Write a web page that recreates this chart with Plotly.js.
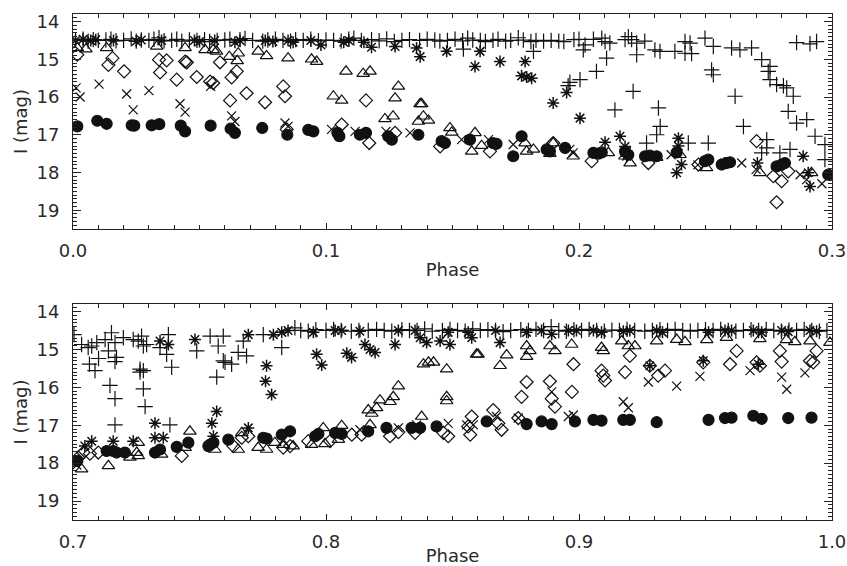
<!DOCTYPE html>
<html><head><meta charset="utf-8">
<script src="https://cdn.plot.ly/plotly-3.0.1.min.js"></script>
<style>html,body{margin:0;padding:0;background:#fff}</style>
</head><body><div id="chart" style="width:847px;height:566px"></div>
<script>
// ===== TOP PANEL (phase 0.0 - 0.3) =====
const circTopPhase = [0.0017,0.0096,0.0133,0.0232,0.0242,0.0311,0.0341,0.0426,0.0443,0.0544,0.0623,0.0640,0.0748,0.0847,0.093,0.095,0.1045,0.1053,0.1134,0.1158,0.1246,0.126,0.1365,0.1457,0.147,0.1569,0.166,0.1674,0.174,0.1773,0.1872,0.1885,0.1945,0.2057,0.2077,0.209,0.2182,0.2195,0.2261,0.228,0.2307,0.2386,0.2498,0.2511,0.2564,0.2583,0.2597,0.2781,0.2801,0.2814,0.2985];
const circTopMag   = [16.78,16.63,16.71,16.75,16.76,16.75,16.72,16.76,16.91,16.76,16.84,16.95,16.82,17.0,16.87,16.91,16.95,17.04,17.0,16.95,17.04,17.13,17.0,17.17,17.22,17.13,17.22,17.24,17.57,17.04,17.39,17.44,17.35,17.48,17.5,17.47,17.44,17.53,17.57,17.55,17.57,17.47,17.7,17.66,17.79,17.75,17.73,17.84,17.79,17.75,18.06];

const crossTopPhase = [0.0012,0.0028,0.0103,0.0212,0.0238,0.030,0.0423,0.0443,0.0544,0.0627,0.064,0.0838,0.085,0.1022,0.1115,0.1237,0.1332,0.1536,0.1642,0.174,0.1964,0.1977,0.2187,0.2364,0.2470,0.2643,0.2700,0.2874,0.290,0.2960];
const crossTopMag   = [15.76,16.0,15.66,15.92,16.34,15.83,16.18,16.4,15.72,16.5,16.65,16.69,16.78,16.86,16.91,16.91,16.95,17.13,17.13,17.26,17.39,17.48,17.45,17.53,17.8,17.75,17.92,18.06,18.19,18.3];

const diamTopPhase = [0.0017,0.014,0.0156,0.0202,0.034,0.0344,0.037,0.041,0.0443,0.045,0.0489,0.0542,0.0554,0.0581,0.0621,0.0627,0.0647,0.0686,0.0759,0.0831,0.0838,0.0845,0.1062,0.1158,0.1171,0.1273,0.1451,0.1648,0.1898,0.205,0.2274,0.2472,0.2702,0.2768,0.2781,0.2801,0.2827];
const diamTopMag   = [14.88,15.15,14.97,15.32,15.01,15.35,15.03,15.54,15.06,15.08,15.47,15.59,15.63,15.08,16.09,15.48,15.32,15.9,16.14,15.72,15.98,16.86,16.73,16.09,17.22,16.95,17.31,17.44,17.22,17.7,17.75,17.79,17.17,18.1,18.79,18.23,17.97];

const triTopPhase = [0.0017,0.0051,0.0133,0.0331,0.0443,0.0522,0.0554,0.0567,0.0618,0.0649,0.0653,0.0732,0.0765,0.085,0.0943,0.0963,0.1029,0.1062,0.1079,0.1147,0.1174,0.1233,0.1265,0.1273,0.1286,0.1365,0.1372,0.1378,0.1385,0.1405,0.149,0.1497,0.1576,0.1589,0.1615,0.1787,0.1793,0.182,0.1885,0.1898,0.1977,0.2116,0.2182,0.2202,0.2307,0.2399,0.2504,0.2715,0.2919];
const triTopMag   = [14.7,14.73,14.7,14.66,14.7,14.75,14.75,14.79,14.93,15.04,14.84,14.79,14.91,14.97,15.0,15.06,15.98,16.09,15.32,15.38,15.32,16.58,16.51,16.03,15.72,16.65,16.18,16.18,16.51,16.62,16.82,16.94,17.44,16.95,17.29,17.22,17.44,17.39,17.5,17.22,17.57,17.48,17.57,17.75,17.61,17.53,17.88,18.01,18.01];

const astTopPhase = [0.001,0.004,0.007,0.009,0.016,0.025,0.027,0.035,0.048,0.050,0.056,0.064,0.066,0.076,0.079,0.085,0.087,0.094,0.098,0.107,0.109,0.115,0.118,0.1273,0.1358,0.1372,0.1477,0.1589,0.1609,0.1688,0.1787,0.1773,0.1793,0.1813,0.1898,0.1951,0.2004,0.2103,0.2162,0.2182,0.2188,0.2393,0.2393,0.2405,0.2386,0.2575,0.2705,0.2886,0.2906,0.2913];
const astTopMag   = [14.5,14.47,14.5,14.48,14.5,14.52,14.49,14.5,14.5,14.53,14.5,14.55,14.5,14.5,14.53,14.5,14.55,14.5,14.62,14.55,14.5,14.55,14.68,14.66,14.7,14.93,14.79,15.19,14.79,15.06,15.06,15.44,15.47,15.5,16.16,15.88,16.56,17.2,17.04,17.31,17.57,17.09,17.3,17.79,18.01,17.75,17.75,17.57,18.01,18.37];

const plusTopPhase = [0.001,0.004,0.006,0.008,0.010,0.013,0.015,0.017,0.020,0.023,0.025,0.027,0.030,0.032,0.034,0.036,0.039,0.041,0.043,0.046,0.049,0.052,0.054,0.057,0.060,0.062,0.066,0.068,0.071,0.075,0.077,0.080,0.083,0.086,0.088,0.091,0.094,0.097,0.100,0.103,0.106,0.109,0.111,0.114,0.118,0.121,0.124,0.127,0.130,0.133,0.137,0.140,0.143,0.145,0.148,0.151,0.154,0.156,0.158,0.161,0.163,0.166,0.168,0.171,0.173,0.176,0.178,0.181,0.183,0.186,0.189,0.192,0.194,0.198,0.200,0.2024,0.2057,0.209,0.2103,0.2122,0.2182,0.2195,0.2208,0.2228,0.226,0.230,0.232,0.2379,0.2419,0.2419,0.2439,0.2445,0.2498,0.2531,0.2603,0.2636,0.2682,0.286,0.2913,0.2939,0.1543,0.182,0.2017,0.2228,0.2109,0.1964,0.1957,0.2004,0.2069,0.2214,0.2142,0.2314,0.2321,0.2307,0.2267,0.2432,0.2511,0.2524,0.2531,0.2617,0.265,0.2742,0.2742,0.2722,0.2794,0.2834,0.2933,0.2972,0.2972,0.2827,0.286,0.29,0.2847,0.2821,0.2808,0.2781,0.2755,0.2748,0.2755,0.2722];
const plusTopMag   = [14.50,14.47,14.52,14.48,14.50,14.49,14.47,14.51,14.50,14.46,14.52,14.49,14.50,14.47,14.43,14.51,14.50,14.47,14.52,14.49,14.50,14.48,14.53,14.50,14.49,14.47,14.48,14.45,14.50,14.52,14.49,14.47,14.50,14.52,14.48,14.50,14.47,14.51,14.49,14.50,14.52,14.47,14.44,14.50,14.48,14.51,14.46,14.53,14.50,14.48,14.50,14.47,14.49,14.52,14.50,14.47,14.51,14.44,14.49,14.50,14.53,14.50,14.47,14.52,14.50,14.43,14.49,14.53,14.50,14.52,14.50,14.52,14.53,14.48,14.47,14.62,14.47,14.44,14.53,14.57,14.48,14.40,14.48,14.57,14.52,14.75,14.79,14.79,14.53,14.84,14.57,14.85,14.44,14.66,14.70,14.75,14.70,14.56,14.59,14.53,14.73,14.79,14.75,14.88,14.97,15.61,15.7,15.54,15.32,15.85,16.34,16.29,16.78,17.0,17.22,17.22,17.22,15.28,15.41,15.98,16.78,17.13,17.35,17.48,17.48,17.39,17.04,17.26,17.66,16.38,16.69,16.6,15.98,15.76,15.7,15.67,15.54,15.32,15.19,15.01];

// ===== BOTTOM PANEL (phase 0.7 - 1.0) =====
const circBotPhase = [0.7017,0.7133,0.7159,0.7172,0.7205,0.7324,0.7344,0.741,0.7456,0.7535,0.7542,0.7555,0.7614,0.7752,0.7765,0.7825,0.7858,0.7957,0.797,0.8036,0.8062,0.8167,0.8239,0.8338,0.8372,0.8437,0.8635,0.8793,0.8852,0.8892,0.8984,0.9057,0.9089,0.9175,0.9201,0.9307,0.9512,0.9577,0.9603,0.9689,0.9722,0.9827,0.9919];
const circBotMag   = [17.94,17.68,17.68,17.72,17.72,17.72,17.64,17.57,17.46,17.55,17.51,17.46,17.38,17.33,17.35,17.25,17.16,17.29,17.23,17.2,17.23,17.16,17.07,17.07,17.07,17.03,16.9,16.97,16.9,16.97,16.9,16.86,16.88,16.86,16.86,16.92,16.86,16.81,16.8,16.75,16.83,16.81,16.8];

const crossBotPhase = [0.7008,0.7015,0.8134,0.8286,0.8358,0.8483,0.8556,0.8582,0.8674,0.876,0.8892,0.8958,0.8978,0.9175,0.9195,0.9274,0.9386,0.9478,0.9676,0.9801,0.9821,0.9893];
const crossBotMag   = [17.94,18.05,17.12,17.07,16.99,16.95,16.99,16.99,16.77,16.81,16.12,16.77,16.73,16.38,16.54,15.86,15.97,15.71,15.56,15.73,16.05,15.62];

const diamBotPhase = [0.7021,0.7041,0.7067,0.71,0.743,0.7634,0.7667,0.7693,0.7831,0.7858,0.793,0.8016,0.8102,0.8141,0.8253,0.8286,0.8352,0.8464,0.8483,0.857,0.8562,0.8576,0.8661,0.8681,0.8694,0.876,0.8773,0.8793,0.8885,0.8892,0.8905,0.8972,0.8978,0.9089,0.9096,0.9103,0.9182,0.9201,0.928,0.9313,0.934,0.9491,0.9597,0.9623,0.9702,0.9715,0.9794,0.9801,0.9913,0.9926,0.9939];
const diamBotMag   = [17.85,17.72,17.75,17.72,17.81,17.55,17.33,17.29,17.59,17.55,17.42,17.42,17.25,17.25,17.29,17.18,17.2,17.2,17.29,17.25,17.03,16.77,16.6,16.95,17.12,16.81,16.25,15.86,15.84,16.3,16.51,16.12,15.39,15.56,15.69,15.82,15.6,15.17,15.43,15.69,15.56,15.34,15.39,15.04,15.34,15.43,15.04,15.32,15.3,15.34,15.04];

const triBotPhase = [0.7034,0.714,0.7225,0.7252,0.7258,0.7258,0.735,0.7443,0.7462,0.7561,0.7653,0.7667,0.7732,0.7765,0.7798,0.7831,0.787,0.7943,0.7989,0.7996,0.8049,0.8062,0.8174,0.8167,0.8181,0.82,0.8213,0.8253,0.8266,0.8286,0.8378,0.8385,0.8405,0.8425,0.8477,0.8477,0.8477,0.8595,0.8601,0.8688,0.8714,0.8793,0.8806,0.8793,0.8885,0.8905,0.8971,0.9089,0.9096,0.9169,0.9195,0.9221,0.9307,0.9386,0.9419,0.9505,0.9583,0.9715,0.982,0.9853,0.9913,0.9992];
const triBotMag   = [18.16,18.07,17.85,17.72,17.81,17.46,17.77,17.59,17.16,17.64,17.64,17.2,17.59,17.64,17.46,17.51,17.55,17.51,17.07,17.49,17.38,17.01,16.99,16.6,16.69,16.54,16.34,16.38,16.25,15.97,16.77,15.39,15.34,15.34,15.52,16.25,16.36,15.13,15.13,15.43,15.15,14.91,15.04,15.19,14.91,15.04,14.87,14.95,15.04,14.78,14.91,14.91,14.78,14.74,14.8,14.75,14.69,14.72,14.75,14.8,14.78,14.82];

const astBotPhase = [0.7047,0.7074,0.7159,0.7238,0.7324,0.7357,0.7324,0.7568,0.7549,0.7555,0.7693,0.7344,0.7377,0.7482,0.7765,0.7761,0.7785,0.7693,0.7792,0.7825,0.785,0.7963,0.7983,0.8082,0.8101,0.8154,0.8174,0.8194,0.8273,0.795,0.8036,0.8062,0.8134,0.8286,0.8352,0.8372,0.8398,0.8451,0.849,0.8483,0.8576,0.8562,0.8688,0.867,0.8793,0.8852,0.8892,0.8958,0.899,0.9057,0.9089,0.9175,0.9201,0.9307,0.933,0.9512,0.9577,0.9603,0.9689,0.9722,0.9801,0.9827,0.9913,0.9939,0.928,0.9709,0.9491];
const astBotMag   = [17.55,17.42,17.42,17.42,17.33,17.33,16.95,16.64,16.95,17.29,17.07,14.78,14.87,14.74,15.43,15.84,16.19,14.61,14.61,14.55,14.5,15.13,15.41,15.1,15.21,14.87,15.0,15.08,14.87,14.55,14.5,14.5,14.52,14.5,14.5,14.69,14.82,14.78,14.87,14.55,14.69,14.55,14.82,14.5,14.55,14.5,14.6,14.5,14.5,14.5,14.55,14.52,14.5,14.5,14.55,14.55,14.5,14.5,14.5,14.55,14.5,14.53,14.5,14.52,15.43,15.39,15.3];

const plusBotPhase = [0.7004,0.7034,0.706,0.7074,0.7065,0.7087,0.7094,0.7101,0.7127,0.7146,0.7166,0.7166,0.714,0.7152,0.7166,0.7172,0.7166,0.7199,0.7238,0.7258,0.7265,0.7265,0.7278,0.7285,0.7271,0.7291,0.7278,0.7344,0.737,0.739,0.7383,0.7377,0.7489,0.7542,0.7568,0.7574,0.7594,0.7601,0.7627,0.7594,0.7653,0.7686,0.7673,0.7752,0.7825,0.7278,0.7877,0.790,0.793,0.796,0.800,0.803,0.806,0.810,0.813,0.8167,0.820,0.823,0.826,0.830,0.833,0.836,0.839,0.842,0.846,0.849,0.852,0.855,0.858,0.861,0.864,0.867,0.870,0.873,0.877,0.880,0.883,0.886,0.889,0.892,0.895,0.898,0.901,0.904,0.907,0.910,0.913,0.916,0.919,0.922,0.926,0.929,0.932,0.935,0.938,0.941,0.944,0.947,0.950,0.953,0.956,0.959,0.962,0.965,0.968,0.971,0.974,0.977,0.980,0.983,0.986,0.989,0.992,0.995,0.998];
const plusBotMag   = [14.61,14.87,14.95,14.91,15.39,15.56,14.82,15.24,14.74,15.95,16.3,16.99,15.04,14.56,14.82,15.21,15.32,14.69,14.74,14.78,15.52,15.6,16.04,16.51,14.65,14.87,14.91,14.95,15.13,15.47,16.99,14.61,15.04,14.65,15.73,14.91,15.3,15.34,15.39,14.65,15.08,15.17,14.78,14.61,14.95,15.56,14.43,14.5,14.52,14.48,14.5,14.47,14.5,14.52,14.5,14.5,14.47,14.5,14.52,14.48,14.5,14.5,14.46,14.52,14.5,14.47,14.5,14.52,14.46,14.5,14.48,14.5,14.53,14.5,14.48,14.5,14.47,14.5,14.4,14.5,14.52,14.48,14.5,14.47,14.5,14.52,14.49,14.5,14.47,14.5,14.52,14.5,14.48,14.5,14.47,14.5,14.52,14.5,14.48,14.5,14.47,14.5,14.52,14.5,14.48,14.5,14.47,14.5,14.52,14.49,14.5,14.47,14.5,14.52,14.5];

const xTickVals1 = [0.0, 0.1, 0.2, 0.3];
const xTickVals2 = [0.7, 0.8, 0.9, 1.0];
const yTickVals = [14, 15, 16, 17, 18, 19];

function tr(x, y, symbol, size, xa, ya, lw) {
  return {
    type: 'scatter', mode: 'markers', x: x, y: y, xaxis: xa, yaxis: ya,
    hoverinfo: 'skip',
    marker: {
      symbol: symbol, size: size,
      color: '#111',
      line: {color: '#111', width: lw || 1.2}
    }
  };
}

const data = [
  tr(plusTopPhase, plusTopMag, 'cross-thin-open', 11, 'x', 'y'),
  tr(astTopPhase, astTopMag, 'asterisk-open', 10, 'x', 'y', 1.5),
  tr(triTopPhase, triTopMag, 'triangle-up-open', 11, 'x', 'y'),
  tr(diamTopPhase, diamTopMag, 'diamond-open', 10, 'x', 'y'),
  tr(crossTopPhase, crossTopMag, 'x-thin-open', 9, 'x', 'y'),
  tr(circTopPhase, circTopMag, 'circle', 11, 'x', 'y'),
  tr(plusBotPhase, plusBotMag, 'cross-thin-open', 11, 'x2', 'y2'),
  tr(astBotPhase, astBotMag, 'asterisk-open', 10, 'x2', 'y2', 1.5),
  tr(triBotPhase, triBotMag, 'triangle-up-open', 11, 'x2', 'y2'),
  tr(diamBotPhase, diamBotMag, 'diamond-open', 10, 'x2', 'y2'),
  tr(crossBotPhase, crossBotMag, 'x-thin-open', 9, 'x2', 'y2'),
  tr(circBotPhase, circBotMag, 'circle', 11, 'x2', 'y2')
];

const FONT = {family: 'DejaVu Sans, sans-serif', size: 18, color: '#2a2a2a'};
function xax(range, tv, anchor) {
  return {
    anchor: anchor, range: range, tickvals: tv, tickformat: '.1f',
    ticks: 'inside', ticklen: 6, tickwidth: 1, tickcolor: '#222',
    showline: true, linecolor: '#222', linewidth: 1, mirror: 'ticks',
    showgrid: false, zeroline: false, ticklabelstandoff: 5,
    minor: {dtick: 0.01, ticks: 'inside', ticklen: 4, tickcolor: '#222', showgrid: false},
    tickfont: FONT,
    title: {text: 'Phase', font: FONT, standoff: 3}
  };
}
function yax(domain, anchor) {
  return {
    anchor: anchor, domain: domain, range: [19.5, 13.8], tickvals: yTickVals,
    ticks: 'inside', ticklen: 8, tickwidth: 1, tickcolor: '#222',
    showline: true, linecolor: '#222', linewidth: 1, mirror: 'ticks',
    showgrid: false, zeroline: false, ticklabelstandoff: 9,
    minor: {dtick: 0.1, ticks: 'inside', ticklen: 4, tickcolor: '#222', showgrid: false},
    tickfont: FONT,
    title: {text: 'I (mag)', font: FONT, standoff: 4}
  };
}

const layout = {
  width: 847, height: 566,
  margin: {l: 73, r: 15, t: 14, b: 46},
  paper_bgcolor: '#fff', plot_bgcolor: '#fff',
  showlegend: false,
  xaxis: Object.assign(xax([0, 0.3], xTickVals1, 'y'), {domain: [0, 1]}),
  yaxis: yax([0.575, 1], 'x'),
  xaxis2: Object.assign(xax([0.7, 1.0], xTickVals2, 'y2'), {domain: [0, 1]}),
  yaxis2: yax([0, 0.427], 'x2')
};

Plotly.newPlot('chart', data, layout, {displayModeBar: false, staticPlot: true});
</script>
</body></html>
